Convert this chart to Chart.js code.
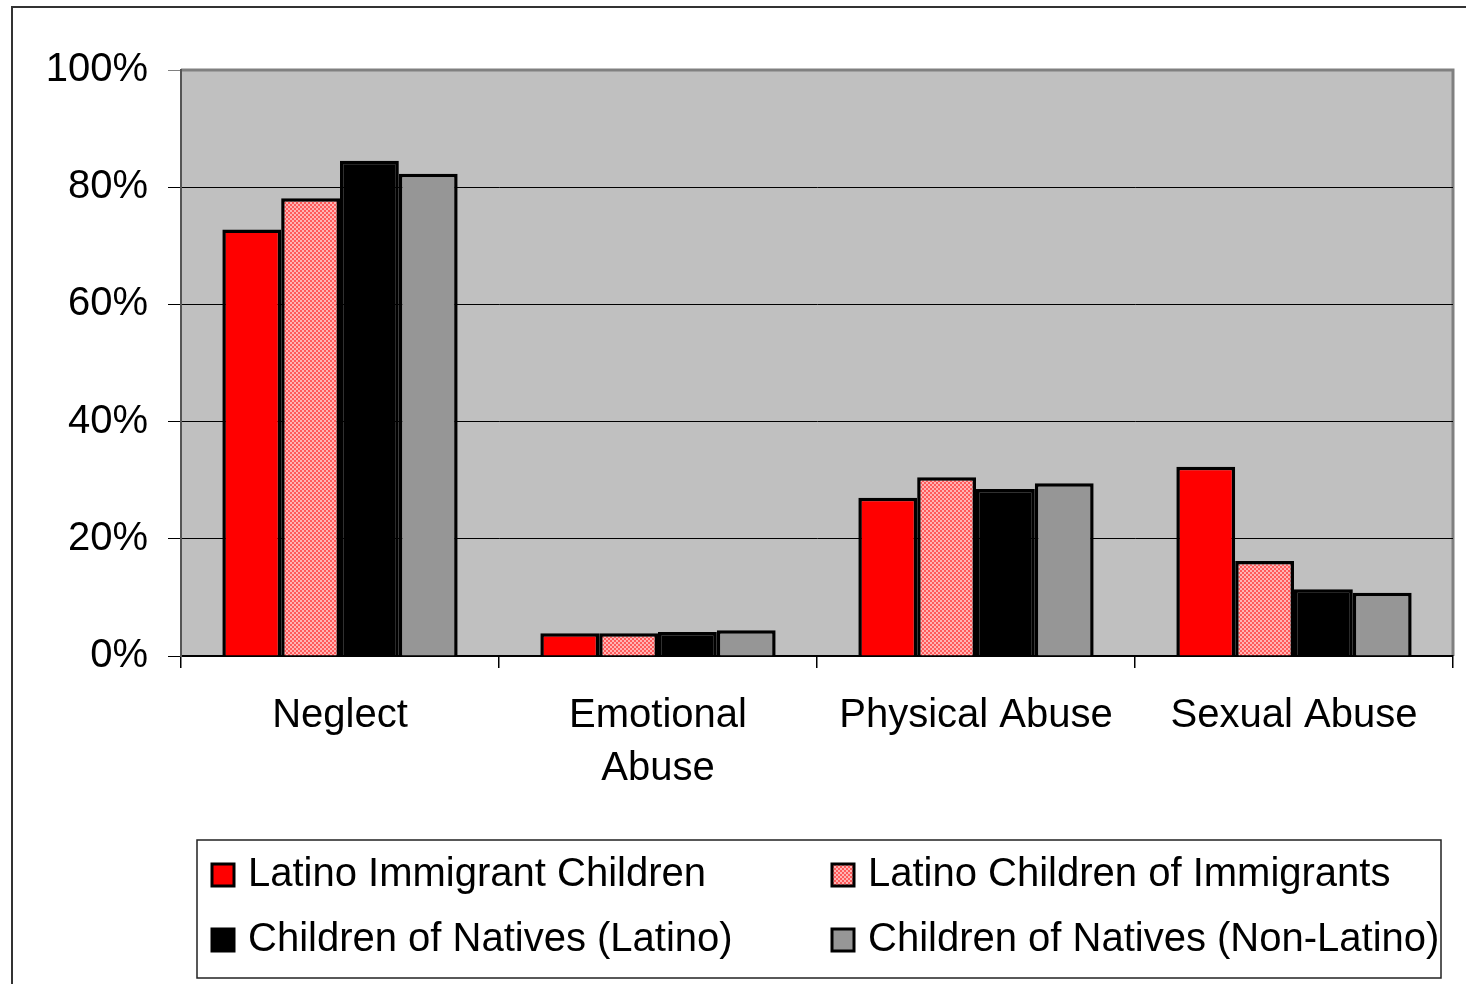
<!DOCTYPE html>
<html>
<head>
<meta charset="utf-8">
<script src="https://cdn.jsdelivr.net/npm/chart.js@4.4.1/dist/chart.umd.min.js"></script>
<style>
  html, body { margin: 0; padding: 0; background: #fff; }
  #wrap { width: 1466px; height: 984px; position: relative; }
</style>
</head>
<body>
<div id="wrap"><canvas id="c" width="1466" height="984"></canvas></div>
<script>
const categories = ['Neglect', ['Emotional', 'Abuse'], 'Physical Abuse', 'Sexual Abuse'];
const seriesNames = [
  'Latino Immigrant Children',
  'Latino Children of Immigrants',
  'Children of Natives (Latino)',
  'Children of Natives (Non-Latino)'
];
const latinoImmigrant = [72.8, 3.9, 27.0, 32.3];
const latinoChildrenOfImmigrants = [78.1, 3.9, 30.5, 16.2];
const nativesLatino = [84.5, 4.1, 28.5, 11.4];
const nativesNonLatino = [82.3, 4.4, 29.5, 10.8];
const yTicks = [0, 20, 40, 60, 80, 100];

// small red/pink checker fill
function makeDither(ctx) {
  const p = document.createElement('canvas');
  p.width = 4; p.height = 4;
  const g = p.getContext('2d');
  g.fillStyle = '#ff5a5a'; g.fillRect(0, 0, 4, 4);
  g.fillStyle = '#ffb4b4'; g.fillRect(0, 0, 2, 2); g.fillRect(2, 2, 2, 2);
  return ctx.createPattern(p, 'repeat');
}
const ctx0 = document.getElementById('c').getContext('2d');
const dither = makeDither(ctx0);

const fills = ['#ff0000', dither, '#000000', '#969696'];
const values = [latinoImmigrant, latinoChildrenOfImmigrants, nativesLatino, nativesNonLatino];
const FONT = 'Liberation Sans, Arial, sans-serif';

const frame = {
  id: 'frame',
  beforeDraw(chart) {
    const c = chart.ctx, a = chart.chartArea;
    c.save();
    c.fillStyle = '#c0c0c0';
    c.fillRect(a.left, a.top, a.right - a.left, a.bottom - a.top);
    c.strokeStyle = '#808080';
    c.lineWidth = 3;
    c.beginPath();
    c.moveTo(a.left, a.top); c.lineTo(a.right, a.top); c.lineTo(a.right, a.bottom);
    c.stroke();
    // outer frame
    c.strokeStyle = '#333';
    c.lineWidth = 2;
    c.beginPath();
    c.moveTo(12, 1000); c.lineTo(12, 7); c.lineTo(1480, 7);
    c.stroke();
    c.restore();
  },
  afterDraw(chart) {
    const c = chart.ctx;
    c.save();
    c.strokeStyle = '#222';
    c.lineWidth = 1.5;
    c.strokeRect(197, 840, 1244, 138);
    c.font = '40px ' + FONT;
    c.textBaseline = 'middle';
    const pos = [[212, 875], [832, 875], [212, 940], [832, 940]];
    chart.data.datasets.forEach((ds, i) => {
      const [x, y] = pos[i];
      c.fillStyle = ds.backgroundColor;
      c.fillRect(x, y - 11, 22, 22);
      c.strokeStyle = '#000';
      c.lineWidth = 3;
      c.strokeRect(x, y - 11, 22, 22);
      c.fillStyle = '#000';
      c.fillText(ds.label, x + 36, y);
    });
    c.restore();
  }
};

new Chart(ctx0, {
  type: 'bar',
  data: {
    labels: categories,
    datasets: seriesNames.map((n, i) => ({
      label: n,
      data: values[i],
      backgroundColor: fills[i],
      borderColor: '#000',
      borderWidth: 3.5,
      borderSkipped: 'bottom',
      categoryPercentage: 0.74,
      barPercentage: 1
    }))
  },
  options: {
    responsive: false,
    animation: false,
    layout: { padding: { left: 0, top: 70, right: 13, bottom: 0 } },
    plugins: { legend: { display: false }, tooltip: { enabled: false } },
    scales: {
      x: {
        grid: {
          offset: true,
          drawOnChartArea: false,
          color: '#000',
          tickLength: 12,
          lineWidth: 1.5
        },
        border: { color: '#000', width: 2 },
        ticks: {
          color: '#000',
          font: { family: FONT, size: 40, lineHeight: 1.32 },
          padding: 22,
          maxRotation: 0,
          autoSkip: false
        },
        afterFit(s) { s.height = 328; }
      },
      y: {
        min: 0, max: 100,
        afterBuildTicks(s) { s.ticks = yTicks.map(v => ({ value: v })); },
        grid: {
          color: ctx => ctx.tick && ctx.tick.value === 100 ? '#808080' : '#000',
          lineWidth: 1,
          tickLength: 13
        },
        border: { color: '#555', width: 2 },
        ticks: {
          color: '#000',
          font: { family: FONT, size: 40 },
          padding: 20,
          callback: v => v + '%'
        },
        afterFit(s) { s.width = 181; }
      }
    }
  },
  plugins: [frame]
});
</script>
</body>
</html>
